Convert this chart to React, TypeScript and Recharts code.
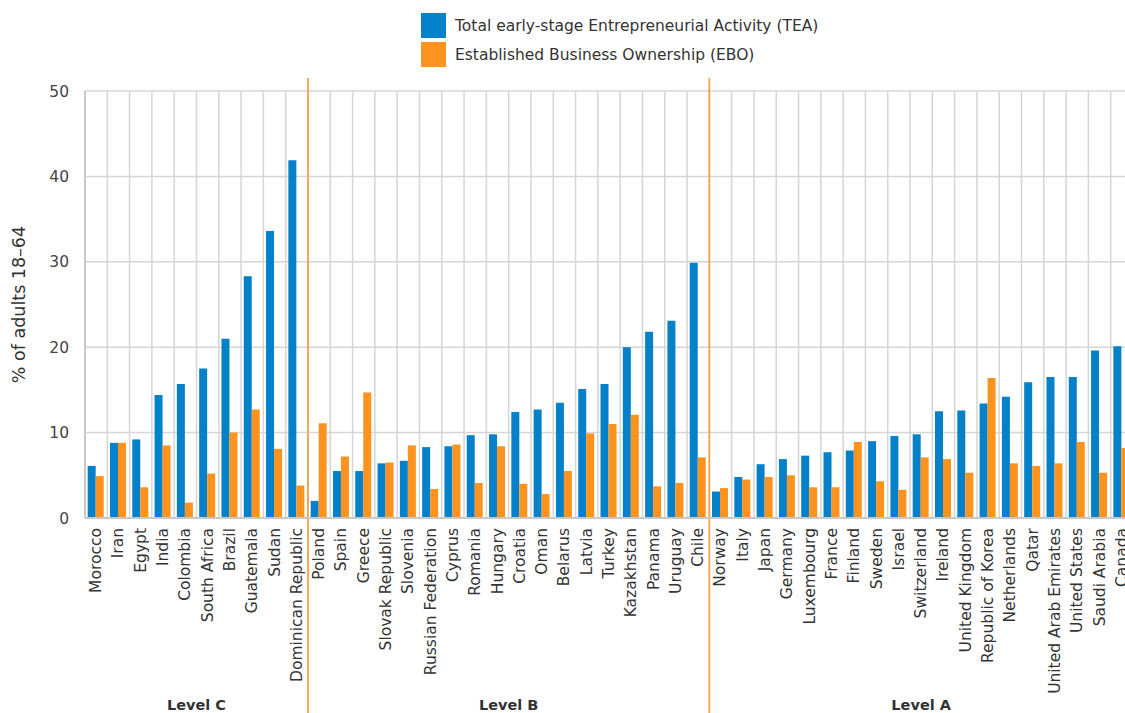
import React from 'react';
import {
  BarChart,
  Bar,
  XAxis,
  YAxis,
  CartesianGrid,
  ReferenceLine,
} from 'recharts';

const countries = [
  'Morocco', 'Iran', 'Egypt', 'India', 'Colombia', 'South Africa', 'Brazil', 'Guatemala', 'Sudan',
  'Dominican Republic',
  'Poland', 'Spain', 'Greece', 'Slovak Republic', 'Slovenia', 'Russian Federation', 'Cyprus',
  'Romania', 'Hungary', 'Croatia', 'Oman', 'Belarus', 'Latvia', 'Turkey', 'Kazakhstan', 'Panama',
  'Uruguay', 'Chile',
  'Norway', 'Italy', 'Japan', 'Germany', 'Luxembourg', 'France', 'Finland', 'Sweden', 'Israel',
  'Switzerland', 'Ireland', 'United Kingdom', 'Republic of Korea', 'Netherlands', 'Qatar',
  'United Arab Emirates', 'United States', 'Saudi Arabia', 'Canada',
];

const tea = [
  6.1, 8.8, 9.2, 14.4, 15.7, 17.5, 21.0, 28.3, 33.6, 41.9,
  2.0, 5.5, 5.5, 6.4, 6.7, 8.3, 8.4, 9.7, 9.8, 12.4, 12.7, 13.5, 15.1, 15.7, 20.0, 21.8, 23.1, 29.9,
  3.1, 4.8, 6.3, 6.9, 7.3, 7.7, 7.9, 9.0, 9.6, 9.8, 12.5, 12.6, 13.4, 14.2, 15.9, 16.5, 16.5, 19.6,
  20.1,
];

const ebo = [
  4.9, 8.8, 3.6, 8.5, 1.8, 5.2, 10.0, 12.7, 8.1, 3.8,
  11.1, 7.2, 14.7, 6.5, 8.5, 3.4, 8.6, 4.1, 8.4, 4.0, 2.8, 5.5, 9.9, 11.0, 12.1, 3.7, 4.1, 7.1,
  3.5, 4.5, 4.8, 5.0, 3.6, 3.6, 8.9, 4.3, 3.3, 7.1, 6.9, 5.3, 16.4, 6.4, 6.1, 6.4, 8.9, 5.3, 8.2,
];

const seriesNames = [
  'Total early-stage Entrepreneurial Activity (TEA)',
  'Established Business Ownership (EBO)',
];
const levelNames = ['Level C', 'Level B', 'Level A'];
const levelCounts = [10, 18, 19];
const yTicks = [0, 10, 20, 30, 40, 50];

const BLUE = '#0481c8';
const ORANGE = '#fd931f';
const FONT = '"DejaVu Sans", sans-serif';

const data = countries.map((country, i) => ({ country, tea: tea[i], ebo: ebo[i] }));

// where each level group starts / ends, counted in categories
const levelEnds = levelCounts.map((_, i) => levelCounts.slice(0, i + 1).reduce((a, b) => a + b, 0));
const levelStarts = levelEnds.map((e, i) => e - levelCounts[i]);

const CountryTick = ({ x, y, payload }: any) => (
  <text
    x={x}
    y={y}
    transform={`rotate(-90, ${x}, ${y})`}
    textAnchor="end"
    dominantBaseline="central"
    fontSize={15.5}
    fontFamily={FONT}
    fill="#333"
  >
    {payload.value}
  </text>
);

const Separator = (p: any) => (
  <line x1={p.x1} x2={p.x2} y1={Math.min(p.y1, p.y2) - 13} y2={713} stroke="#f7a048" strokeWidth={1.8} />
);

// label sitting under the middle of a level group
const levelLabel = (name: string) => ({ viewBox }: any) => (
  <text
    x={viewBox.x}
    y={viewBox.y + viewBox.height + 187}
    textAnchor="middle"
    dominantBaseline="central"
    fontSize={14.5}
    fontWeight="bold"
    fontFamily={FONT}
    fill="#333"
  >
    {name}
  </text>
);

export default function App() {
  return (
    <div
      style={{
        position: 'absolute',
        left: 0,
        top: 0,
        width: 1125,
        height: 713,
        overflow: 'hidden',
        background: '#fff',
        fontFamily: FONT,
      }}
    >
      {/* legend */}
      <div style={{ position: 'absolute', left: 421, top: 13, zIndex: 2 }}>
        {seriesNames.map((name, i) => (
          <div key={name} style={{ display: 'flex', alignItems: 'center', height: 25, marginBottom: 4 }}>
            <div style={{ width: 25, height: 25, background: i === 0 ? BLUE : ORANGE }} />
            <span style={{ marginLeft: 9, fontSize: 15.5, color: '#333' }}>{name}</span>
          </div>
        ))}
      </div>

      <BarChart
        width={1150}
        height={713}
        data={data}
        margin={{ top: 91, right: 17, left: 0, bottom: 0 }}
        barCategoryGap="12%"
        barGap={0}
      >
        <CartesianGrid
          stroke="#d6d6d6"
          strokeWidth={1.5}
          verticalCoordinatesGenerator={({ offset }: any) =>
            [...countries.keys(), countries.length].map(
              (i) => offset.left + (i * offset.width) / countries.length,
            )
          }
        />
        <XAxis
          dataKey="country"
          interval={0}
          height={195}
          tick={<CountryTick />}
          tickLine={false}
          tickSize={0}
          tickMargin={10}
          axisLine={{ stroke: '#c8c8c8', strokeWidth: 2 }}
        />
        <YAxis
          width={85}
          domain={[0, 50]}
          ticks={yTicks}
          tickLine={false}
          tickSize={0}
          tickMargin={16}
          tick={{ fontSize: 15.5, fill: '#444', fontFamily: FONT }}
          axisLine={{ stroke: '#c8c8c8', strokeWidth: 2 }}
          label={{
            content: ({ viewBox }: any) => {
              const cx = viewBox.x + 19;
              const cy = viewBox.y + viewBox.height / 2;
              return (
                <text
                  x={cx}
                  y={cy}
                  transform={`rotate(-90, ${cx}, ${cy})`}
                  textAnchor="middle"
                  dominantBaseline="central"
                  fontSize={17.5}
                  fontFamily={FONT}
                  fill="#333"
                >
                  % of adults 18–64
                </text>
              );
            },
          }}
        />
        <Bar dataKey="tea" name={seriesNames[0]} fill={BLUE} isAnimationActive={false} />
        <Bar dataKey="ebo" name={seriesNames[1]} fill={ORANGE} isAnimationActive={false} />
        {levelStarts.slice(1).map((s) => (
          <ReferenceLine
            key={s}
            x={countries[s]}
            position="start"
            shape={<Separator />}
            ifOverflow="visible"
          />
        ))}
        {levelNames.map((name, i) => {
          const mid = (levelStarts[i] + levelEnds[i]) / 2;
          const whole = Number.isInteger(mid);
          return (
            <ReferenceLine
              key={name}
              x={countries[Math.floor(mid)]}
              position={whole ? 'start' : 'middle'}
              stroke="none"
              ifOverflow="visible"
              label={{ content: levelLabel(name) }}
            />
          );
        })}
      </BarChart>
    </div>
  );
}
